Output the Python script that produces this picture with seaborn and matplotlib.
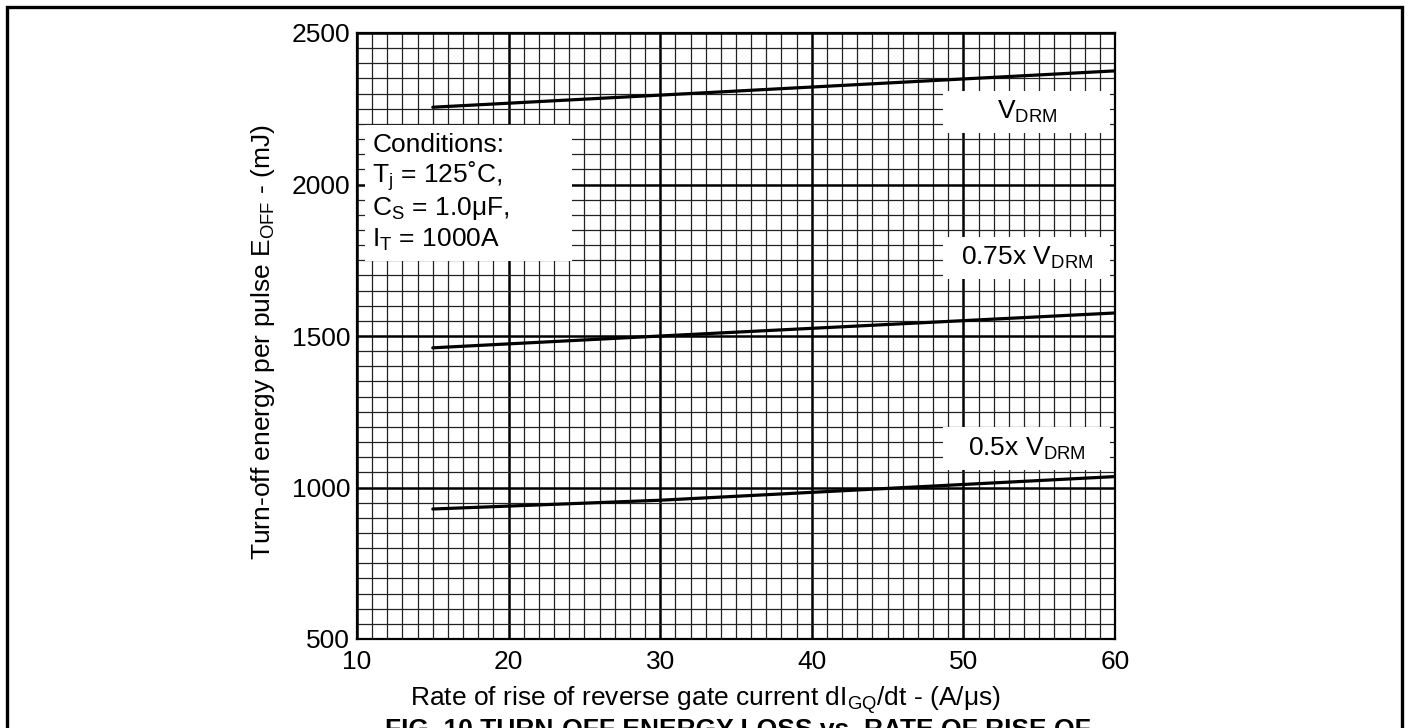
import matplotlib
matplotlib.use("Agg")
import matplotlib.pyplot as plt
from matplotlib.patches import Rectangle
from matplotlib.ticker import MultipleLocator
import pandas as pd
import seaborn as sns

# Turn-off energy vs. rate of rise of reverse gate current
rate = [15, 30, 60]                       # dIGQ/dt (A/us)
e_vdrm = [2255, 2295, 2375]               # mJ at V_DRM
e_075 = [1461, 1500, 1576]                # mJ at 0.75x V_DRM
e_050 = [929, 958, 1036]                  # mJ at 0.5x V_DRM
series = ["V_DRM", "0.75x V_DRM", "0.5x V_DRM"]

df = pd.DataFrame({
    "rate": rate * 3,
    "energy": e_vdrm + e_075 + e_050,
    "series": [s for s in series for _ in rate],
})

sns.set_theme(style="white")
plt.rcParams["font.family"] = ["Liberation Sans", "DejaVu Sans"]
plt.rcParams["mathtext.fontset"] = "custom"
plt.rcParams["mathtext.rm"] = "Liberation Sans"
plt.rcParams["text.color"] = "black"
plt.rcParams["axes.labelcolor"] = "black"

FS = 19
W, H = 1410, 728
fig = plt.figure(figsize=(W / 100, H / 100), dpi=100)
ax = fig.add_axes([357 / W, 1 - 639 / H, (1115 - 357) / W, (639 - 33) / H])

sns.lineplot(data=df, x="rate", y="energy", units="series", estimator=None,
             color="black", lw=2.3, ax=ax, legend=False, zorder=3)

ax.set_xlim(10, 60)
ax.set_ylim(500, 2500)
ax.xaxis.set_major_locator(MultipleLocator(10))
ax.xaxis.set_minor_locator(MultipleLocator(1))
ax.yaxis.set_major_locator(MultipleLocator(500))
ax.yaxis.set_minor_locator(MultipleLocator(50))
ax.set_axisbelow(True)
ax.grid(which="major", color="black", lw=1.8)
ax.grid(which="minor", color="#222222", lw=0.9)
ax.tick_params(which="both", length=0, labelsize=FS, colors="black")
ax.tick_params(axis="x", pad=8)
ax.tick_params(axis="y", pad=5)
for sp in ax.spines.values():
    sp.set_color("black")
    sp.set_linewidth(1.6)

ax.set_xlabel(r"Rate of rise of reverse gate current dI$_{\mathregular{GQ}}$/dt - (A/μs)",
              fontsize=FS, color="black")
ax.set_ylabel(r"Turn-off energy per pulse E$_{\mathregular{OFF}}$ - (mJ)",
              fontsize=FS, color="black")
ax.xaxis.set_label_coords(0.46, -0.075)
ax.yaxis.set_label_coords(-0.105, 0.49)

# white boxes behind the annotations
boxes = [
    (10.5, 1748, 24.2 - 10.5, 2196 - 1748),
    (48.65, 2170, 59.67 - 48.65, 2309 - 2170),
    (48.65, 1688, 59.67 - 48.65, 1827 - 1688),
    (48.65, 1058, 59.67 - 48.65, 1200 - 1058),
]
for x0, y0, w, h in boxes:
    ax.add_patch(Rectangle((x0, y0), w, h, facecolor="white", edgecolor="none", zorder=2))

cond = ["Conditions:",
        r"T$_{\mathregular{j}}$ = 125˚C,",
        r"C$_{\mathregular{S}}$ = 1.0μF,",
        r"I$_{\mathregular{T}}$ = 1000A"]
for txt, yb in zip(cond, [2107, 2005, 1899, 1794]):
    ax.text(11.0, yb, txt, fontsize=FS, va="baseline", ha="left", zorder=4, color="black")

labels = [r"V$_{\mathregular{DRM}}$", r"0.75x V$_{\mathregular{DRM}}$", r"0.5x V$_{\mathregular{DRM}}$"]
for txt, yc in zip(labels, [2240, 1757, 1129]):
    ax.text(54.2, yc, txt, fontsize=FS, va="center", ha="center", zorder=4, color="black")

# outer frame and caption
fig.add_artist(Rectangle((6.5 / W, -0.05), (1401.5 - 6.5) / W, 1 - 7.5 / H + 0.05,
                         transform=fig.transFigure, facecolor="none",
                         edgecolor="black", lw=2.4))
fig.text(385 / W, 1 - 718 / H, "FIG. 10 TURN-OFF ENERGY LOSS vs. RATE OF RISE OF",
         fontsize=FS, fontweight="bold", va="top", ha="left", color="black")

fig.savefig("out.png", dpi=100)
